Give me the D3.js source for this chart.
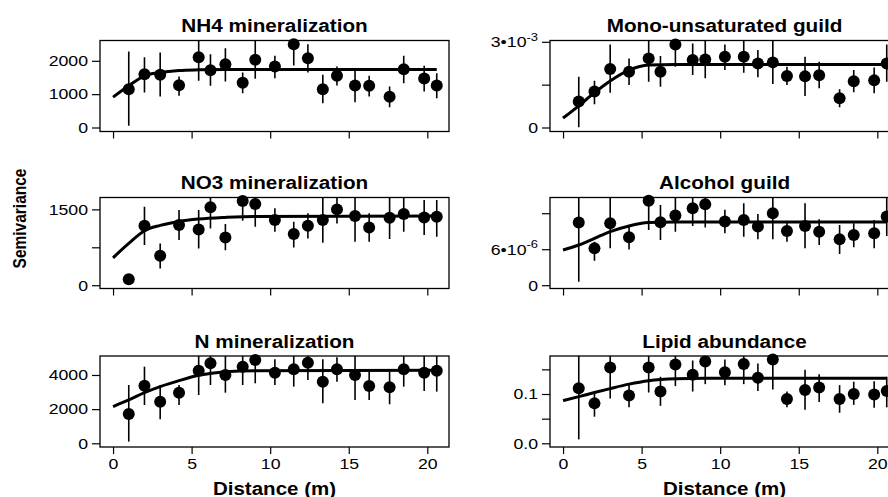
<!DOCTYPE html>
<html>
<head>
<meta charset="utf-8">
<script src="https://cdn.jsdelivr.net/npm/d3@7"></script>
<style>
  body { margin: 0; background: #fff; }
  svg text { font-family: "Liberation Sans", Arial, Helvetica, sans-serif; fill: #000; }
</style>
</head>
<body>
<div id="chart"></div>
<script>
// Distance classes (m), shared by all panels
const distance = [1.0, 2.0, 3.0, 4.2, 5.45, 6.2, 7.15, 8.25, 9.05, 10.3, 11.5, 12.4, 13.35, 14.25, 15.4, 16.3, 17.6, 18.5, 19.8, 20.6];
// Distances where the fitted variogram curves were read
const fitDist = [0, 1, 2, 3, 4.2, 5.45, 7.15, 9, 20.6];
const xDomain = [-0.83, 21.38];
const xTicks = [0, 5, 10, 15, 20];

// NH4 mineralization
const nh4Mean = [1150, 1600, 1580, 1270, 2110, 1720, 1900, 1340, 2030, 1830, 2500, 2080, 1150, 1550, 1260, 1250, 920, 1750, 1470, 1260];
const nh4Lo = [50, 1050, 930, 950, 1400, 1250, 1380, 1030, 1460, 1480, 1860, 1650, 730, 1260, 760, 930, 610, 1330, 1080, 880];
const nh4Hi = [2280, 2110, 2250, 1530, 2700, 2200, 2380, 1650, 2700, 2150, 2700, 2500, 1580, 1830, 1730, 1550, 1230, 2150, 1850, 1630];
const nh4Fit = [910, 1250, 1550, 1650, 1710, 1730, 1740, 1740, 1740];
const nh4Domain = [-120, 2609];
const nh4Ticks = [0, 1000, 2000];
const nh4Labels = ["0", "1000", "2000"];

// Mono-unsaturated guild
const monoMean = [0.91e-3, 1.26e-3, 2.05e-3, 1.95e-3, 2.42e-3, 1.95e-3, 2.91e-3, 2.36e-3, 2.38e-3, 2.48e-3, 2.48e-3, 2.24e-3, 2.28e-3, 1.80e-3, 1.79e-3, 1.83e-3, 1.02e-3, 1.62e-3, 1.65e-3, 2.24e-3];
const monoLo = [0.01e-3, 0.81e-3, 1.22e-3, 1.49e-3, 1.60e-3, 1.43e-3, 2.13e-3, 1.84e-3, 1.72e-3, 2.01e-3, 1.92e-3, 1.76e-3, 1.52e-3, 1.49e-3, 1.10e-3, 1.37e-3, 0.71e-3, 1.23e-3, 1.20e-3, 1.60e-3];
const monoHi = [1.78e-3, 1.64e-3, 2.91e-3, 2.42e-3, 3.1e-3, 2.50e-3, 3.1e-3, 2.94e-3, 3.1e-3, 2.91e-3, 3.1e-3, 2.71e-3, 3.1e-3, 2.13e-3, 2.48e-3, 2.30e-3, 1.34e-3, 2.01e-3, 2.10e-3, 2.91e-3];
const monoFit = [0.33e-3, 0.76e-3, 1.22e-3, 1.63e-3, 2.01e-3, 2.19e-3, 2.21e-3, 2.21e-3, 2.21e-3];
const monoDomain = [-0.14e-3, 3.046e-3];
const monoTicks = [0, 1.5e-3, 3e-3];
const monoLabels = ["0", "", "3•10^-3"];

// NO3 mineralization
const no3Mean = [119, 1176, 582, 1189, 1104, 1540, 945, 1665, 1606, 1289, 1011, 1176, 1289, 1500, 1368, 1143, 1335, 1408, 1341, 1355];
const no3Lo = [80, 793, 330, 892, 727, 1123, 694, 1275, 1156, 1057, 747, 925, 839, 1222, 859, 859, 912, 1057, 991, 958];
const no3Hi = [160, 1553, 826, 1487, 1487, 1800, 1209, 1800, 1800, 1520, 1256, 1421, 1800, 1800, 1800, 1421, 1800, 1800, 1685, 1685];
const no3Fit = [542, 826, 1077, 1183, 1262, 1308, 1341, 1361, 1368];
const no3Domain = [-65, 1735];
const no3Ticks = [0, 750, 1500];
const no3Labels = ["0", "", "1500"];

// Alcohol guild
const alcMean = [10.44e-6, 6.14e-6, 10.33e-6, 7.98e-6, 14.06e-6, 10.49e-6, 11.61e-6, 12.83e-6, 13.5e-6, 10.6e-6, 10.88e-6, 9.77e-6, 12.0e-6, 9.04e-6, 9.88e-6, 8.93e-6, 7.64e-6, 8.37e-6, 8.65e-6, 11.44e-6];
const alcLo = [0.56e-6, 4.07e-6, 6.14e-6, 5.97e-6, 9.21e-6, 7.53e-6, 8.93e-6, 9.88e-6, 9.6e-6, 8.65e-6, 8.09e-6, 7.64e-6, 7.64e-6, 7.25e-6, 6.14e-6, 6.7e-6, 5.19e-6, 6.31e-6, 6.14e-6, 8.2e-6];
const alcHi = [15e-6, 7.25e-6, 15e-6, 9.77e-6, 15e-6, 13.39e-6, 15e-6, 15e-6, 15e-6, 12.56e-6, 13.67e-6, 11.89e-6, 15e-6, 10.6e-6, 13.67e-6, 10.99e-6, 10.04e-6, 10.32e-6, 10.88e-6, 15e-6];
const alcFit = [5.86e-6, 6.7e-6, 7.81e-6, 8.93e-6, 9.88e-6, 10.44e-6, 10.55e-6, 10.55e-6, 10.55e-6];
const alcDomain = [-0.55e-6, 14.62e-6];
const alcTicks = [0, 6e-6, 1.2e-5];
const alcLabels = ["0", "6•10^-6", ""];

// N mineralization
const nMean = [1717, 3375, 2439, 2965, 4253, 4682, 4000, 4487, 4878, 4136, 4331, 4721, 3609, 4331, 4000, 3356, 3278, 4331, 4136, 4253];
const nLo = [98, 2244, 1405, 2244, 2829, 3414, 2965, 3414, 3512, 3414, 3317, 3707, 2341, 3609, 2536, 2536, 2283, 3317, 3063, 3024];
const nHi = [3414, 4487, 3414, 3414, 5300, 5300, 5300, 5300, 5300, 4917, 5300, 5300, 4917, 5034, 5300, 4195, 4195, 5300, 5300, 5300];
const nFit = [2146, 2536, 2965, 3317, 3668, 3980, 4195, 4253, 4273];
const nDomain = [-217, 5112];
const nTicks = [0, 2000, 4000];
const nLabels = ["0", "2000", "4000"];

// Lipid abundance
const lipMean = [0.1115, 0.081, 0.154, 0.097, 0.154, 0.105, 0.160, 0.139, 0.166, 0.144, 0.161, 0.133, 0.170, 0.090, 0.108, 0.113, 0.090, 0.100, 0.099, 0.106];
const lipLo = [0.008, 0.054, 0.091, 0.073, 0.103, 0.076, 0.116, 0.105, 0.120, 0.118, 0.120, 0.106, 0.109, 0.073, 0.068, 0.084, 0.062, 0.078, 0.072, 0.073];
const lipHi = [0.19, 0.10, 0.19, 0.122, 0.19, 0.135, 0.19, 0.168, 0.19, 0.170, 0.19, 0.162, 0.19, 0.105, 0.149, 0.140, 0.118, 0.125, 0.126, 0.135];
const lipFit = [0.0865, 0.0946, 0.103, 0.111, 0.120, 0.127, 0.131, 0.132, 0.132];
const lipDomain = [-0.0075, 0.1771];
const lipTicks = [0, 0.05, 0.1, 0.15];
const lipLabels = ["0.0", "", "0.1", ""];

const panels = [
  { title: "NH4 mineralization", col: 0, row: 0, mean: nh4Mean, lo: nh4Lo, hi: nh4Hi, fit: nh4Fit, domain: nh4Domain, ticks: nh4Ticks, labels: nh4Labels },
  { title: "Mono-unsaturated guild", col: 1, row: 0, mean: monoMean, lo: monoLo, hi: monoHi, fit: monoFit, domain: monoDomain, ticks: monoTicks, labels: monoLabels },
  { title: "NO3 mineralization", col: 0, row: 1, mean: no3Mean, lo: no3Lo, hi: no3Hi, fit: no3Fit, domain: no3Domain, ticks: no3Ticks, labels: no3Labels },
  { title: "Alcohol guild", col: 1, row: 1, mean: alcMean, lo: alcLo, hi: alcHi, fit: alcFit, domain: alcDomain, ticks: alcTicks, labels: alcLabels },
  { title: "N mineralization", col: 0, row: 2, mean: nMean, lo: nLo, hi: nHi, fit: nFit, domain: nDomain, ticks: nTicks, labels: nLabels },
  { title: "Lipid abundance", col: 1, row: 2, mean: lipMean, lo: lipLo, hi: lipHi, fit: lipFit, domain: lipDomain, ticks: lipTicks, labels: lipLabels }
];

// Layout
const width = 888, height = 497;
const colLeft = [100, 550];
const rowTop = [40.5, 197.5, 356];
const boxW = 349, boxH = 91;
const stretch = 1.12;     // the figure text is slightly wide
const tickStretch = 1.18;

const svg = d3.select("#chart").append("svg")
  .attr("width", width)
  .attr("height", height);

panels.forEach((p, i) => {
  const x0 = colLeft[p.col], y0 = rowTop[p.row];
  const x = d3.scaleLinear().domain(xDomain).range([x0, x0 + boxW]);
  const y = d3.scaleLinear().domain(p.domain).range([y0 + boxH, y0]);
  const g = svg.append("g");

  g.append("clipPath").attr("id", "clip" + i)
    .append("rect")
    .attr("x", x0).attr("y", y0).attr("width", boxW).attr("height", boxH);
  const inner = g.append("g").attr("clip-path", `url(#clip${i})`);

  // error bars
  inner.selectAll("line.err")
    .data(distance)
    .join("line")
    .attr("class", "err")
    .attr("x1", d => x(d)).attr("x2", d => x(d))
    .attr("y1", (d, j) => y(p.lo[j]))
    .attr("y2", (d, j) => y(p.hi[j]))
    .attr("stroke", "#000")
    .attr("stroke-width", 1.6);

  // fitted curve
  inner.append("path")
    .datum(fitDist.map((d, j) => [d, p.fit[j]]))
    .attr("fill", "none")
    .attr("stroke", "#000")
    .attr("stroke-width", 3)
    .attr("d", d3.line().x(d => x(d[0])).y(d => y(d[1])).curve(d3.curveMonotoneX));

  // points
  g.selectAll("circle")
    .data(distance)
    .join("circle")
    .attr("cx", d => x(d))
    .attr("cy", (d, j) => y(p.mean[j]))
    .attr("r", 6)
    .attr("fill", "#000");

  // box
  g.append("rect")
    .attr("x", x0).attr("y", y0).attr("width", boxW).attr("height", boxH)
    .attr("fill", "none").attr("stroke", "#000").attr("stroke-width", 1.3);

  // y axis
  const ya = g.append("g")
    .attr("transform", `translate(${x0},0)`)
    .call(d3.axisLeft(y).tickValues(p.ticks).tickSize(8).tickFormat((d, j) => p.labels[j]));
  ya.select(".domain").remove();
  ya.selectAll(".tick line").attr("stroke-width", 1.2);
  ya.selectAll(".tick text").each(function (d, j) {
    const t = d3.select(this);
    const lab = p.labels[j];
    t.attr("x", 0).attr("transform", `translate(-12,0) scale(${tickStretch},1)`)
      .attr("font-size", 15).attr("font-family", null).attr("fill", "#000");
    if (lab.includes("^")) {
      const [base, sup] = lab.split("^");
      t.text(null);
      t.append("tspan").text(base);
      t.append("tspan").attr("font-size", 11).attr("dy", "-0.6em").text(sup);
    }
  });

  // x axis
  const xa = g.append("g")
    .attr("transform", `translate(0,${y0 + boxH})`)
    .call(d3.axisBottom(x).tickValues(xTicks).tickSize(7).tickPadding(4)
      .tickFormat(d => p.row === 2 ? d : ""));
  xa.select(".domain").remove();
  xa.selectAll(".tick line").attr("stroke-width", 1.2);
  xa.selectAll(".tick text")
    .attr("font-size", 15).attr("font-family", null).attr("fill", "#000")
    .attr("transform", `scale(${tickStretch},1)`);

  // panel title
  g.append("text")
    .attr("transform", `translate(${x0 + boxW / 2},${y0 - 8.5}) scale(${stretch},1)`)
    .attr("text-anchor", "middle")
    .attr("font-size", 18.5)
    .attr("font-weight", "bold")
    .text(p.title);

  // x axis title under the bottom row
  if (p.row === 2) {
    g.append("text")
      .attr("transform", `translate(${x0 + boxW / 2},${y0 + boxH + 47.5}) scale(1.08,1)`)
      .attr("text-anchor", "middle")
      .attr("font-size", 19)
      .attr("font-weight", "bold")
      .text("Distance (m)");
  }
});

// shared y axis title
svg.append("text")
  .attr("transform", `translate(25.5,218.5) scale(1.22,1) rotate(-90)`)
  .attr("text-anchor", "middle")
  .attr("font-size", 15.5)
  .attr("font-weight", "bold")
  .text("Semivariance");
</script>
</body>
</html>
